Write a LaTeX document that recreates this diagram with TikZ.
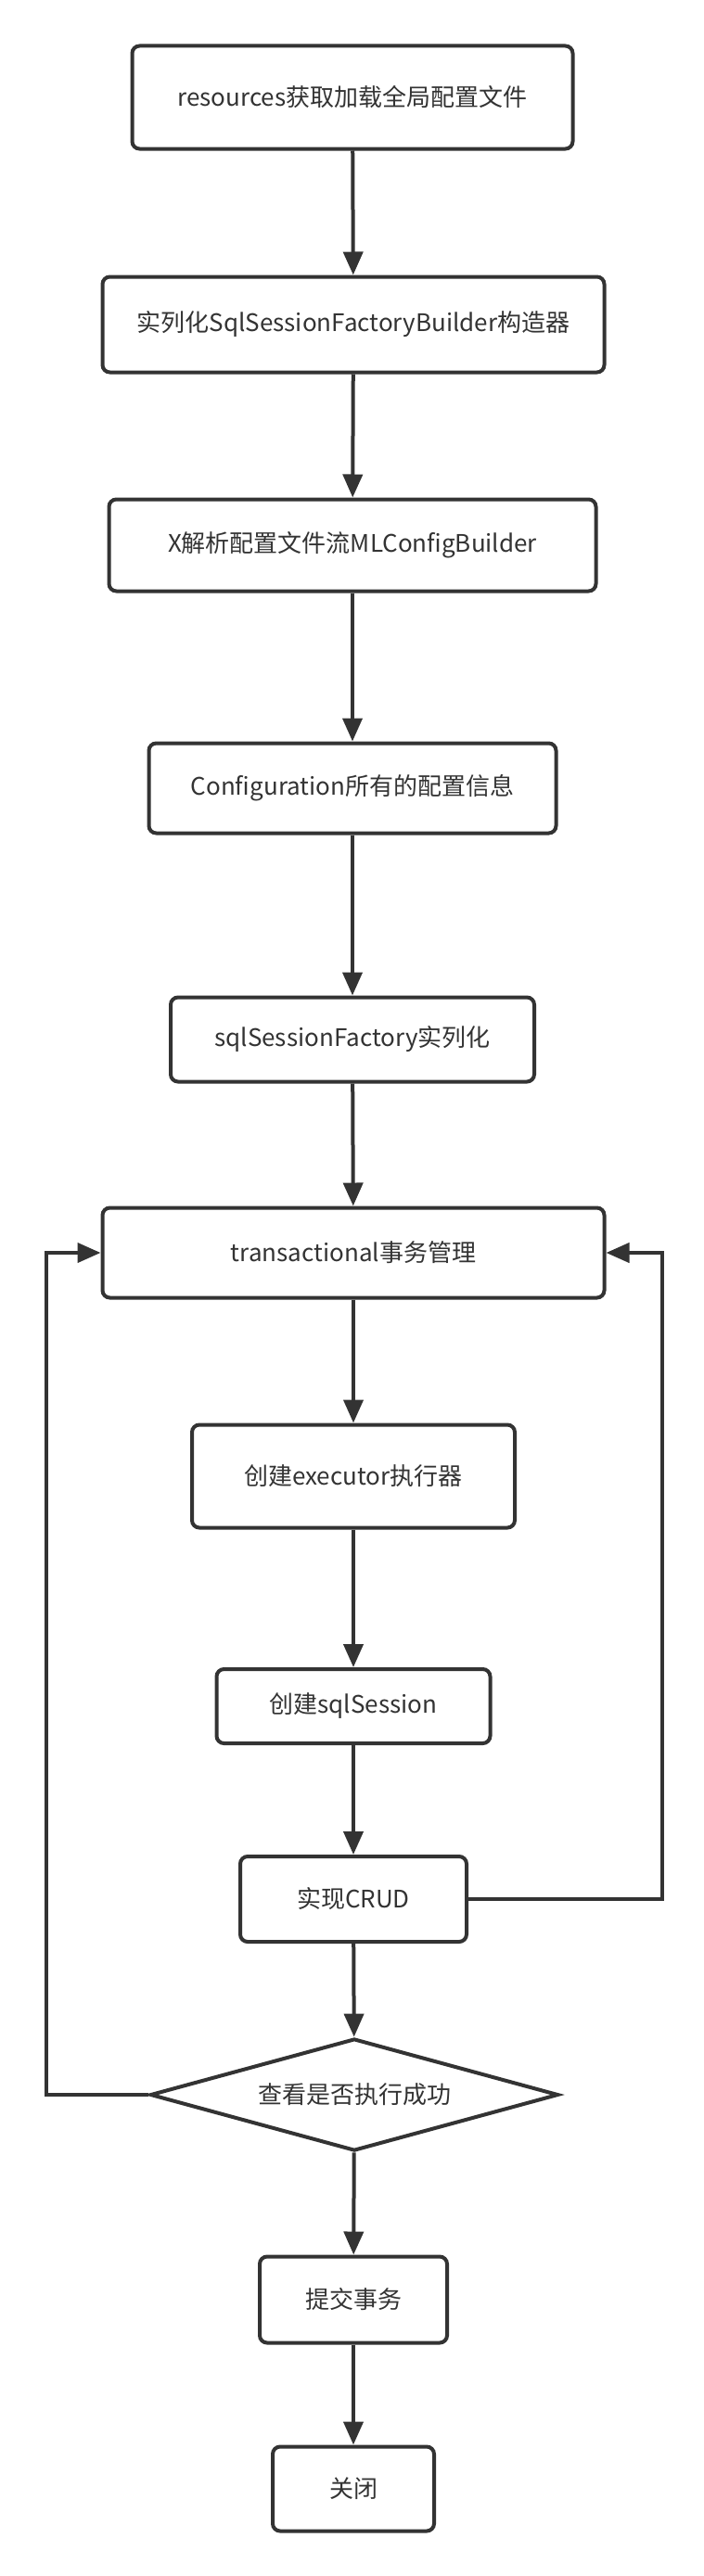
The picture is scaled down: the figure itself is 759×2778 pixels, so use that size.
\documentclass[tikz,border=0pt]{standalone}
\usepackage{fontspec}
\setmainfont{Noto Sans CJK SC}
\usetikzlibrary{shapes.geometric,arrows.meta}
\definecolor{ink}{HTML}{333333}

\begin{document}
\begin{tikzpicture}[x=0.5pt, y=-0.5pt,
  every node/.style={font=\fontsize{13pt}{15.5pt}\selectfont, text=ink},
  box/.style={draw=ink, line width=2pt, rounded corners=4pt, inner sep=0pt},
  cond/.style={draw=ink, line width=2pt, diamond, aspect=3.6, inner sep=0pt},
  e/.style={draw=ink, line width=2pt, -{Triangle[length=12.5pt,width=10.5pt]}}
]

% --- page frame ---
\fill[white] (0,0) rectangle (759,2778);
\useasboundingbox (0,0) rectangle (759,2778);

% --- loading the configuration ---
\node[box, minimum width=237.5pt, minimum height=55.5pt] (res) at (380,105) {resources获取加载全局配置文件};
\node[box, minimum width=270.5pt, minimum height=51.5pt] (builder) at (381,350) {实列化SqlSessionFactoryBuilder构造器};
\node[box, minimum width=262.5pt, minimum height=49.5pt] (xmlcfg) at (380,588) {X解析配置文件流MLConfigBuilder};
\node[box, minimum width=219.5pt, minimum height=48.5pt] (config) at (380,850) {Configuration所有的配置信息};
\node[box, minimum width=196pt, minimum height=45.5pt] (factory) at (380,1121) {sqlSessionFactory实列化};

% --- the transaction loop ---
\node[box, minimum width=270.5pt, minimum height=48.5pt] (trans) at (381,1351) {transactional事务管理};
\node[box, minimum width=174pt, minimum height=55.5pt] (exec) at (381,1592) {创建executor执行器};
\node[box, minimum width=147.5pt, minimum height=40pt] (session) at (381,1840) {创建sqlSession};
\node[box, minimum width=122pt, minimum height=46pt] (crud) at (381,2048) {实现CRUD};
\node[cond, minimum width=220pt, minimum height=60.5pt] (check) at (382,2259) {查看是否执行成功};

% --- finishing ---
\node[box, minimum width=101pt, minimum height=46.5pt] (commit) at (381,2480) {提交事务};
\node[box, minimum width=87pt, minimum height=45.5pt] (close) at (381,2684) {关闭};

% corner points of the two return lines
\coordinate (rloop) at (714,1351);
\coordinate (lloop) at (50,1351);

% --- main flow ---
\draw[e] (res) -- (builder);
\draw[e] (builder) -- (xmlcfg);
\draw[e] (xmlcfg) -- (config);
\draw[e] (config) -- (factory);
\draw[e] (factory) -- (trans);
\draw[e] (trans) -- (exec);
\draw[e] (exec) -- (session);
\draw[e] (session) -- (crud);
\draw[e] (crud) -- (check);
\draw[e] (check) -- (commit);
\draw[e] (commit) -- (close);

% --- return lines ---
\draw[e] (crud.east) -| (rloop) -- (trans.east);
\draw[e] (check.west) -| (lloop) -- (trans.west);

\end{tikzpicture}
\end{document}
